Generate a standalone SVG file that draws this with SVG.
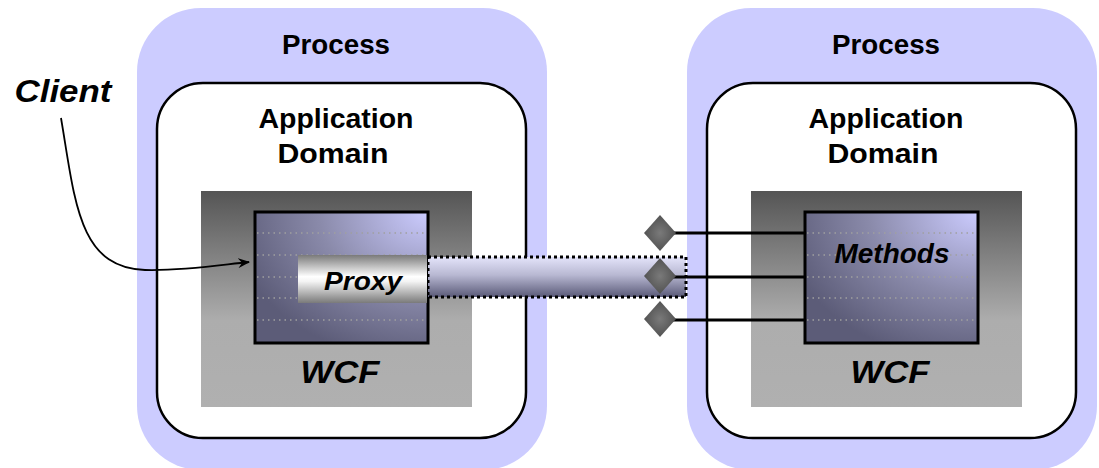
<svg xmlns="http://www.w3.org/2000/svg" width="1099" height="468" viewBox="0 0 1099 468">
  <defs>
    <linearGradient id="grayBox" x1="0" y1="0" x2="0" y2="1">
      <stop offset="0" stop-color="#555555"/>
      <stop offset="0.6" stop-color="#adadad"/>
      <stop offset="1" stop-color="#b0b0b0"/>
    </linearGradient>
    <radialGradient id="blueBox" cx="1" cy="0" r="1.15" fx="1" fy="0">
      <stop offset="0" stop-color="#ccccff"/>
      <stop offset="0.55" stop-color="#8a8aaa"/>
      <stop offset="1" stop-color="#5c5c78"/>
    </radialGradient>
    <linearGradient id="proxyGrad" x1="0" y1="0" x2="0" y2="1">
      <stop offset="0" stop-color="#7a7a7a"/>
      <stop offset="0.45" stop-color="#ffffff"/>
      <stop offset="0.55" stop-color="#f4f4f4"/>
      <stop offset="1" stop-color="#7a7a7a"/>
    </linearGradient>
    <linearGradient id="tubeGrad" x1="0" y1="0" x2="0" y2="1">
      <stop offset="0" stop-color="#e4e4fa"/>
      <stop offset="0.45" stop-color="#b8b8d2"/>
      <stop offset="1" stop-color="#5a5a78"/>
    </linearGradient>
    <radialGradient id="diamondGrad" cx="0.5" cy="0.5" r="0.6">
      <stop offset="0" stop-color="#7a7a7a"/>
      <stop offset="1" stop-color="#4a4a4a"/>
    </radialGradient>
    <marker id="arrow" viewBox="0 0 12 10" refX="11" refY="5" markerWidth="12" markerHeight="10" markerUnits="userSpaceOnUse" orient="auto">
      <path d="M0,0 L12,5 L0,10 L4,5 z" fill="#000"/>
    </marker>
    <style>
      .process { fill: #ccccff; }
      .appdomain { fill: #ffffff; stroke: #000; stroke-width: 2.5; }
      .graybox { fill: url(#grayBox); }
      .bluebox { fill: url(#blueBox); stroke: #000; stroke-width: 3; }
      .dots { stroke: #a0a0a0; stroke-width: 1.5; stroke-dasharray: 1.5 4; fill: none; }
      .t { font-family: "Liberation Sans", Arial, sans-serif; font-weight: bold; fill: #000; text-anchor: middle; }
      .ti { font-family: "Liberation Sans", Arial, sans-serif; font-weight: bold; font-style: italic; fill: #000; text-anchor: middle; }
      .conn { stroke: #000; stroke-width: 3; fill: none; }
      .diamond { fill: url(#diamondGrad); }
    </style>
  </defs>

  <!-- Left side -->
  <g id="process-left">
    <rect class="process" x="137" y="8" width="410" height="462" rx="64" ry="64"/>
    <text class="t" x="336" y="54" font-size="27" textLength="108" lengthAdjust="spacingAndGlyphs">Process</text>
  </g>
  <g id="appdomain-left">
    <rect class="appdomain" x="157" y="83" width="369" height="355" rx="46" ry="46"/>
    <text class="t" x="336" y="128" font-size="27" textLength="155" lengthAdjust="spacingAndGlyphs">Application</text>
    <text class="t" x="333" y="163" font-size="27" textLength="111" lengthAdjust="spacingAndGlyphs">Domain</text>
  </g>
  <g id="wcf-left">
    <rect class="graybox" x="201" y="191" width="271" height="216"/>
    <rect class="bluebox" x="255" y="212" width="173" height="131"/>
    <g class="dots">
      <line x1="257" y1="233" x2="426" y2="233"/>
      <line x1="257" y1="255" x2="426" y2="255"/>
      <line x1="257" y1="277" x2="426" y2="277"/>
      <line x1="257" y1="298" x2="426" y2="298"/>
      <line x1="257" y1="320" x2="426" y2="320"/>
    </g>
    <text class="ti" x="340" y="383" font-size="31" textLength="79" lengthAdjust="spacingAndGlyphs">WCF</text>
  </g>

  <!-- Right side -->
  <g id="process-right">
    <rect class="process" x="687" y="8" width="410" height="462" rx="64" ry="64"/>
    <text class="t" x="886" y="54" font-size="27" textLength="108" lengthAdjust="spacingAndGlyphs">Process</text>
  </g>
  <g id="appdomain-right">
    <rect class="appdomain" x="707" y="83" width="369" height="355" rx="46" ry="46"/>
    <text class="t" x="886" y="128" font-size="27" textLength="155" lengthAdjust="spacingAndGlyphs">Application</text>
    <text class="t" x="883" y="163" font-size="27" textLength="111" lengthAdjust="spacingAndGlyphs">Domain</text>
  </g>
  <g id="wcf-right">
    <rect class="graybox" x="751" y="191" width="271" height="216"/>
    <rect class="bluebox" x="805" y="212" width="173" height="131"/>
    <g class="dots">
      <line x1="807" y1="233" x2="976" y2="233"/>
      <line x1="807" y1="255" x2="976" y2="255"/>
      <line x1="807" y1="277" x2="976" y2="277"/>
      <line x1="807" y1="298" x2="976" y2="298"/>
      <line x1="807" y1="320" x2="976" y2="320"/>
    </g>
    <text class="ti" x="892" y="263" font-size="27" textLength="115" lengthAdjust="spacingAndGlyphs">Methods</text>
    <text class="ti" x="890" y="383" font-size="31" textLength="79" lengthAdjust="spacingAndGlyphs">WCF</text>
  </g>

  <!-- Channel -->
  <g id="channel">
    <rect x="428" y="257" width="258" height="40" fill="url(#tubeGrad)" stroke="#000" stroke-width="3" stroke-dasharray="3 3"/>
  </g>
  <g id="proxy">
    <rect x="298" y="255" width="129" height="48" fill="url(#proxyGrad)"/>
    <text class="ti" x="363" y="290" font-size="26" textLength="78" lengthAdjust="spacingAndGlyphs">Proxy</text>
  </g>

  <!-- Connectors -->
  <g id="connectors">
    <line class="conn" x1="670" y1="233" x2="806" y2="233"/>
    <line class="conn" x1="670" y1="277" x2="806" y2="277"/>
    <line class="conn" x1="670" y1="320" x2="806" y2="320"/>
    <path d="M61,118 C75,200 78,268 145,270 C185,271 220,265 249,262" stroke="#000" stroke-width="1.8" fill="none" marker-end="url(#arrow)"/>
  </g>

  <!-- Endpoints -->
  <g id="endpoint-1"><polygon class="diamond" points="660,215 676,233 660,251 644,233"/></g>
  <g id="endpoint-2"><polygon class="diamond" points="660,258 676,276 660,294 644,276"/></g>
  <g id="endpoint-3"><polygon class="diamond" points="660,301 676,319 660,337 644,319"/></g>

  <g id="client">
    <text class="ti" x="63" y="102" font-size="31" textLength="97" lengthAdjust="spacingAndGlyphs">Client</text>
  </g>
</svg>
